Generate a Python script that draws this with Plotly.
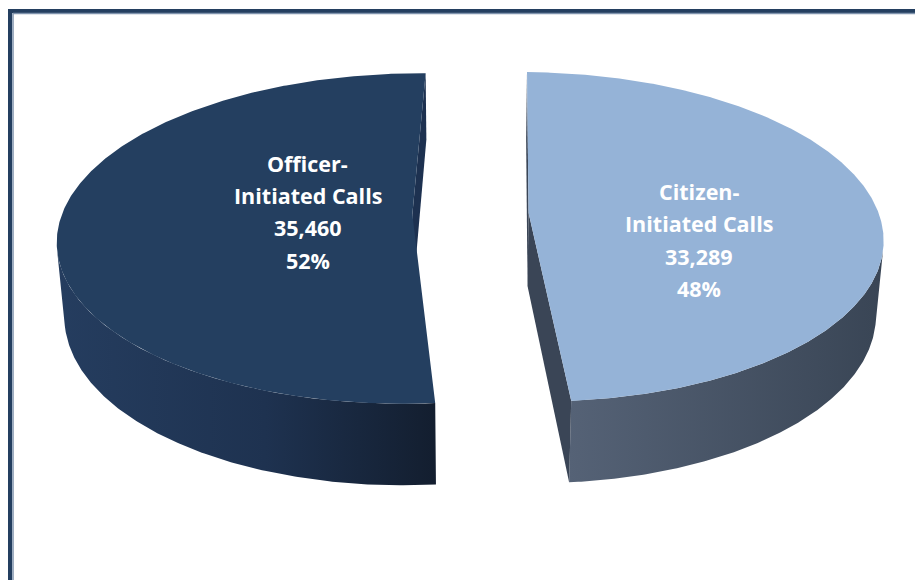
import math
import numpy as np
import plotly.graph_objects as go

# ---------------- data ----------------
categories = ["Officer-Initiated Calls", "Citizen-Initiated Calls"]
values = [35460, 33289]

# ---------------- styles / layout constants ----------------
top_colors = ["#243F60", "#95B3D7"]
wall_scales = [
    [[0, "#253D5F"], [0.55, "#1E3250"], [1, "#131E2F"]],
    [[0, "#556276"], [1, "#394555"]],
]
radial_colors = ["#1D3150", "#3A4556"]
label_r = [0.30, 0.50]          # label radius (world units, from slice apex)
label_dang = [-5.0, -21.0]      # label angle offset (deg)
label_dy = [-1.5, -0.5, 0.5, 1.5]
line_gap = 32.3

W, H = 915, 580
cx, cy = 470.5, 213.5
F = 2122.0
D = 6.06
phi = math.radians(27.45)
h = 0.24
pull = 0.166
start_deg = 88.9

cphi, sphi = math.cos(phi), math.sin(phi)


def proj(X, Y, Z):
    X = np.asarray(X, float); Y = np.asarray(Y, float); Z = np.asarray(Z, float)
    d = D + Z * cphi - Y * sphi
    xs = cx + F * X / d
    ys = cy - F * (Y * cphi + Z * sphi) / d
    return xs, ys


cam = np.array([0.0, D * sphi, -D * cphi])

fig = go.Figure()
total = sum(values)
a = start_deg
slices = []
for v in values:
    b = a + 360.0 * v / total
    slices.append((a, b))
    a = b

for i, (a, b) in enumerate(slices):
    mid = math.radians((a + b) / 2)
    ox, oz = pull * math.cos(mid), pull * math.sin(mid)
    t = np.radians(np.linspace(a, b, 400))
    rx, rz = ox + np.cos(t), oz + np.sin(t)

    # outer wall (visible parts)
    vis = (-ox * np.cos(t) - oz * np.sin(t) - 1 - D * cphi * np.sin(t)) > 0
    idx = np.where(vis)[0]
    if len(idx):
        runs = np.split(idx, np.where(np.diff(idx) != 1)[0] + 1)
        for run in runs:
            tx, ty = proj(rx[run], np.zeros(len(run)), rz[run])
            bx, by = proj(rx[run], -h * np.ones(len(run)), rz[run])
            px = np.concatenate([tx, bx[::-1]])
            py = np.concatenate([ty, by[::-1]])
            fig.add_trace(go.Scatter(
                x=px, y=py, fill="toself", mode="lines", line=dict(width=0),
                fillgradient=dict(type="horizontal", colorscale=wall_scales[i]),
                hoverinfo="skip"))

    # radial faces
    apex = np.array([ox, 0.0, oz])
    for ang, sgn in ((a, 1), (b, -1)):
        r = math.radians(ang)
        if sgn == 1:
            n = np.array([math.sin(r), 0, -math.cos(r)])
        else:
            n = np.array([-math.sin(r), 0, math.cos(r)])
        if np.dot(cam - apex, n) > 0:
            ex, ez = ox + math.cos(r), oz + math.sin(r)
            px, py = proj([ox, ex, ex, ox], [0, 0, -h, -h], [oz, ez, ez, oz])
            fig.add_trace(go.Scatter(
                x=px, y=py, fill="toself", mode="lines", line=dict(width=0),
                fillcolor=radial_colors[i], hoverinfo="skip"))

    # top face
    tx, ty = proj(rx, np.zeros_like(rx), rz)
    ax_, ay_ = proj([ox], [0], [oz])
    px = np.concatenate([ax_, tx, ax_])
    py = np.concatenate([ay_, ty, ay_])
    fig.add_trace(go.Scatter(
        x=px, y=py, fill="toself", mode="lines", line=dict(width=0),
        fillcolor=top_colors[i], hoverinfo="skip"))

    # label
    la = mid + math.radians(label_dang[i])
    lx, ly = proj([ox + label_r[i] * math.cos(la)], [0], [oz + label_r[i] * math.sin(la)])
    name = categories[i]
    k = name.index("-") + 1
    pct = round(100.0 * values[i] / total)
    lines = [name[:k], name[k:], f"{values[i]:,}", f"{pct}%"]
    for j, txt in enumerate(lines):
        fig.add_annotation(
            x=float(lx[0]), y=float(ly[0]) + label_dy[j] * line_gap, text=txt,
            showarrow=False, xanchor="center", yanchor="middle",
            font=dict(family="Open Sans", size=21.5, color="white", weight="bold"))

shapes = [
    dict(type="line", xref="x", yref="y", x0=10, x1=10, y0=9, y1=H,
         line=dict(color="#243F60", width=4)),
    dict(type="line", xref="x", yref="y", x0=8, x1=W, y0=11, y1=11,
         line=dict(color="#243F60", width=4)),
    dict(type="line", xref="x", yref="y", x0=13, x1=13, y0=13, y1=H,
         line=dict(color="#7F93AD", width=1.5)),
    dict(type="line", xref="x", yref="y", x0=13, x1=W, y0=13.5, y1=13.5,
         line=dict(color="#7F93AD", width=1.5)),
]

fig.update_layout(
    width=W, height=H, margin=dict(l=0, r=0, t=0, b=0),
    paper_bgcolor="white", plot_bgcolor="white", showlegend=False,
    xaxis=dict(range=[0, W], visible=False, fixedrange=True),
    yaxis=dict(range=[H, 0], visible=False, fixedrange=True),
    shapes=shapes,
)

fig.write_html("out.html", config={"displayModeBar": False},
               post_script="document.body.style.margin='0';")
